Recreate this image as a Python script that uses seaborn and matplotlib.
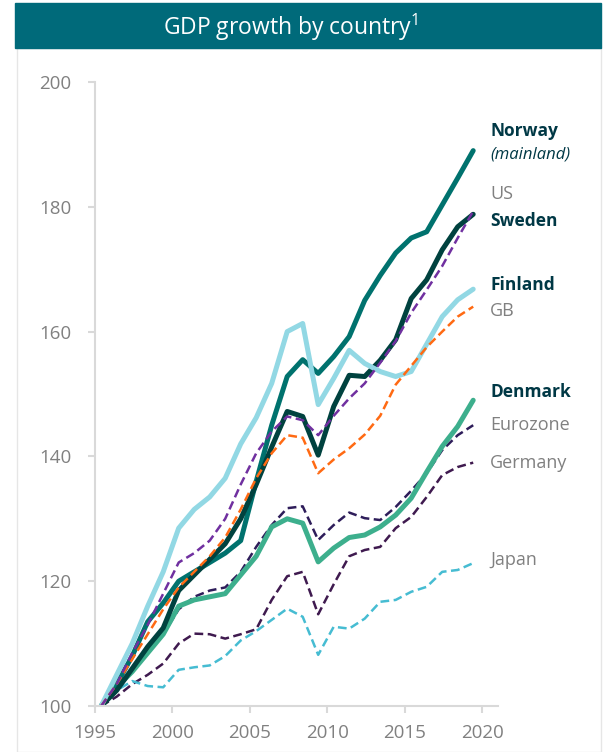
import pandas as pd
import matplotlib.pyplot as plt
import matplotlib.patches as patches
import seaborn as sns

sns.set_style('white')
plt.rcParams['font.family'] = ['Open Sans', 'DejaVu Sans']
plt.rcParams['mathtext.default'] = 'regular'
plt.rcParams['lines.solid_capstyle'] = 'round'
plt.rcParams['lines.solid_joinstyle'] = 'round'

years = list(range(1995, 2020))

# indeks, 1995 = 100 (lest av fra figuren)
norway = [100, 103.5, 108, 113.5, 116.5, 120, 121.5, 123, 124.5, 126.5, 136, 145, 152.8,
          155.5, 153.3, 156, 159.2, 165, 169, 172.6, 175, 176, 180.3, 184.6, 189]
sweden = [100, 102.5, 106, 109.5, 112.5, 118.5, 121, 123.5, 126, 130, 135.5, 141.5, 147.2,
          146.4, 140.2, 148, 153, 152.8, 155.4, 158.7, 165.3, 168.3, 173.1, 176.8, 178.8]
finland = [100, 105, 110, 116, 121.5, 128.5, 131.5, 133.5, 136.5, 142, 146.2, 151.7, 160,
           161.3, 148.3, 152.5, 157, 154.9, 153.6, 152.8, 153.6, 158, 162.4, 165.1, 166.8]
denmark = [100, 103, 105.5, 108.5, 111.5, 116, 117, 117.5, 118, 121, 124, 128.7, 130,
           129.3, 123.1, 125.3, 127, 127.4, 128.7, 130.6, 133.3, 137.5, 141.6, 144.8, 149]
us = [100, 103.5, 108.5, 113, 118, 123, 124.5, 126.5, 130, 135.5, 140.5, 144, 146.4,
      145.8, 143.4, 146.5, 149.3, 151.7, 155, 158.5, 163, 166.7, 170.5, 175, 179.3]
gb = [100, 103.5, 107.5, 111.5, 115.5, 119, 121.5, 124, 127, 131.5, 136.5, 140.5, 143.4,
      143, 137.3, 139.5, 141.3, 143.5, 146.5, 151.5, 154.5, 157.5, 160, 162.4, 164]
eurozone = [100, 102.5, 105.5, 108.5, 111.5, 115.5, 117.5, 118.5, 119, 121.5, 125.5, 129, 131.7,
            132, 126.6, 129, 131, 130.1, 129.8, 131.9, 134.5, 137.3, 141, 143.4, 145]
germany = [100, 101.5, 103.5, 105, 106.8, 110, 111.6, 111.5, 110.8, 111.5, 112.3, 117, 120.8,
           121.5, 114.7, 119.5, 124, 125, 125.5, 128.5, 130.3, 133.5, 137, 138.3, 139]
japan = [100, 102.5, 104, 103.2, 103, 105.8, 106.2, 106.5, 108, 110.5, 112, 113.8, 115.6,
         114.3, 108.2, 112.7, 112.4, 114, 116.7, 117, 118.3, 119.1, 121.5, 121.8, 122.9]

series = {
    'Germany': germany, 'Eurozone': eurozone, 'Japan': japan, 'Denmark': denmark,
    'Norway': norway, 'Sweden': sweden, 'Finland': finland, 'GB': gb, 'US': us,
}
colors = {
    'Norway': '#00726E', 'Sweden': '#00423F', 'Finland': '#92D8E4', 'Denmark': '#3DAF8D',
    'US': '#7030A0', 'GB': '#FF6A13', 'Eurozone': '#2E1D5A', 'Germany': '#3F1A4F',
    'Japan': '#46BCD2',
}
nordic = ['Norway', 'Sweden', 'Finland', 'Denmark']

# etiketter til hoyre
label_text = ['Norway', '(mainland)', 'US', 'Sweden', 'Finland', 'GB', 'Denmark',
              'Eurozone', 'Germany', 'Japan']
label_y = [192.1, 188.4, 182.1, 177.7, 167.5, 163.3, 150.3, 145.0, 138.9, 123.4]

rows = []
for name, vals in series.items():
    for yr, v in zip(years, vals):
        rows.append({'year': yr + 0.4, 'value': v, 'country': name})
df = pd.DataFrame(rows)

fig = plt.figure(figsize=(6.07, 7.52), dpi=100)

# tittelbanner og ramme
fig.patches.append(patches.Rectangle((17 / 607, 0), 584 / 607, 1 - 48 / 752,
                                     transform=fig.transFigure, fill=False,
                                     edgecolor='#E6E6E6', lw=1))
fig.patches.append(patches.Rectangle((15 / 607, 1 - 48 / 752), 586 / 607, 45 / 752,
                                     transform=fig.transFigure, color='#006A7A'))
fig.text(291 / 607, 1 - 27 / 752, 'GDP growth by country$^{1}$', color='white',
         fontsize=16.5, ha='center', va='center')

ax = fig.add_axes([95 / 607, 46 / 752, 403 / 607, 624 / 752])

sns.lineplot(data=df, x='year', y='value', hue='country', palette=colors,
             size='country', sizes={k: (3.6 if k in nordic else 1.8) for k in series},
             style='country', dashes={k: ('' if k in nordic else (3.5, 1.8)) for k in series},
             hue_order=list(series), size_order=list(series), style_order=list(series),
             legend=False, ax=ax)

ax.set_xlim(1995, 2021)
ax.set_ylim(100, 200)
ax.set_xticks(range(1995, 2021, 5))
ax.set_yticks(range(100, 201, 20))
ax.set_xlabel('')
ax.set_ylabel('')
for s in ['top', 'right']:
    ax.spines[s].set_visible(False)
for s in ['left', 'bottom']:
    ax.spines[s].set_color('#D9D9D9')
    ax.spines[s].set_linewidth(1.5)
ax.tick_params(axis='both', colors='#D9D9D9', labelcolor='#808080', labelsize=13.5,
               length=5, width=1.5, direction='out')
ax.tick_params(axis='y', pad=12)
ax.tick_params(axis='x', pad=8)
ax.tick_params(left=True, bottom=True)

for txt, yv in zip(label_text, label_y):
    if txt == '(mainland)':
        ax.text(2020.5, yv, txt, color='#003845', fontsize=12, style='italic',
                va='center', clip_on=False)
    elif txt in nordic:
        ax.text(2020.5, yv, txt, color='#003845', fontsize=12.5, fontweight='bold',
                va='center', clip_on=False)
    else:
        ax.text(2020.5, yv, txt, color='#808080', fontsize=13, va='center', clip_on=False)

fig.savefig('out.png', dpi=100)
